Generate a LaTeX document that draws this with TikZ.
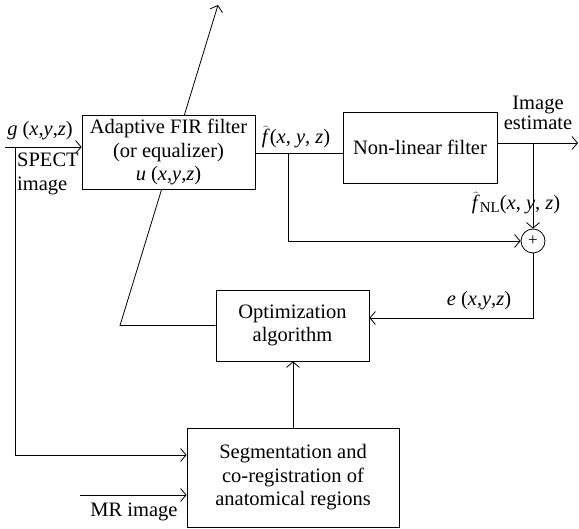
\documentclass[tikz,border=0pt]{standalone}
\usepackage{fontspec}
\setmainfont{Liberation Serif}
\usetikzlibrary{arrows.meta,backgrounds}
\begin{document}
\begin{tikzpicture}[x=1pt,y=-1pt,
  box/.style={draw, line width=0.8pt, fill=white, align=center, inner sep=0pt},
  conn/.style={line width=0.8pt},
  arr/.style={conn, -{Straight Barb[length=5.5pt,width=13pt,line width=0.8pt]}},
  lbl/.style={inner sep=0pt, align=center},
  font=\fontsize{20.5}{23.5}\selectfont]
\useasboundingbox (0,0) rectangle (579,529);
% boxes
\node[box, minimum width=173pt, minimum height=74pt] (fir) at (168.5,152)
  {Adaptive FIR filter\\(or equalizer)\\\textit{u} (\textit{x},\textit{y},\textit{z})};
\node[box, minimum width=154pt, minimum height=71pt] (nl) at (420,147.5) {Non-linear filter};
\node[box, minimum width=153pt, minimum height=71pt] (opt) at (292.5,325.5) {Optimization\\algorithm};
\node[box, minimum width=212pt, minimum height=99pt] (seg) at (293,477.5)
  {Segmentation and\\co-registration of\\anatomical regions};
\node[draw, circle, line width=0.8pt, minimum size=24pt, inner sep=0pt, fill=white] (sum) at (533,241)
  {\fontsize{17}{17}\selectfont +};
% coordinates
\coordinate (in) at (5,147);
\coordinate (sp) at (15,147);
\coordinate (mr) at (80,495);
\coordinate (fh) at (255,153);
\coordinate (b1) at (288,153);
\coordinate (out) at (578,143);
\coordinate (ec) at (533,318);
\coordinate (dbot) at (120,325.5);
\coordinate (dtop) at (218,5);
% diagonal behind the FIR box
\begin{scope}[on background layer]
\draw[arr, line join=miter] (opt.west) -- (dbot) -- (dtop);
\end{scope}
% connectors
\draw[arr] (in) -- (in -| fir.west);
\draw[arr] (sp) |- ([yshift=22.5pt]seg.west);
\draw[arr] (mr) -- (mr -| seg.west);
\draw[conn] (fh -| fir.east) -- (fh -| nl.west);
\draw[arr] (b1) |- (sum.west);
\draw[arr] (out -| nl.east) -- (out);
\draw[arr] (out -| sum) -- (sum.north);
\draw[arr] (sum.south) -- (ec) -- (ec -| opt.east);
\draw[arr] (seg.north) -- (seg.north |- opt.south);
% labels
\node[lbl] (glbl) at (40,131) {\textit{g} (\textit{x},\textit{y},\textit{z})};
\node[lbl, anchor=north west, align=left] (spect) at (17,153) {SPECT\\image};
\node[lbl] (fhlbl) at (296,137) {$\widehat{\mbox{\textit{f}}}$(\textit{x}, \textit{y}, \textit{z})};
\node[lbl] (estlbl) at (538,113) {Image\\[-4pt]estimate};
\node[lbl] (fnllbl) at (516,203) {$\widehat{\mbox{\textit{f}}}$\raisebox{-3pt}{\fontsize{15}{15}\selectfont NL}(\textit{x}, \textit{y}, \textit{z})};
\node[lbl] (elbl) at (479,301) {\textit{e} (\textit{x},\textit{y},\textit{z})};
\node[lbl] (mrlbl) at (134,512) {MR image};
\end{tikzpicture}
\end{document}
